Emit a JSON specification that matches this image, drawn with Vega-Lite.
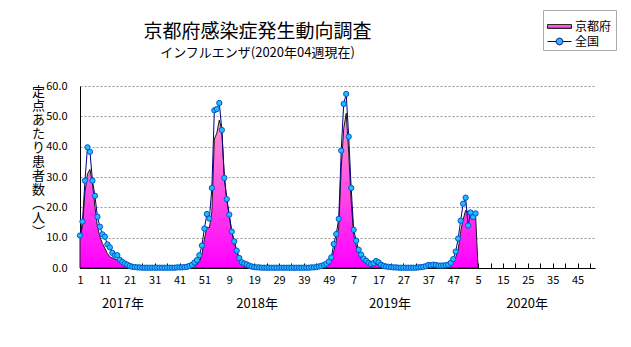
{
  "$schema": "https://vega.github.io/schema/vega-lite/v6.json",
  "width": 515,
  "height": 182,
  "autosize": {"type": "none"},
  "padding": {"left": 80, "top": 86, "right": 36, "bottom": 79},
  "background": "white",
  "config": {"view": {"stroke": null}, "font": "Noto Sans CJK JP", "axis": {"labelOverlap": false}},
  "title": {
    "text": "京都府感染症発生動向調査",
    "subtitle": "インフルエンザ(2020年04週現在)",
    "anchor": "middle",
    "frame": "group",
    "dx": -80,
    "dy": 76,
    "fontSize": 19,
    "fontWeight": "normal",
    "font": "Noto Sans CJK JP",
    "color": "#000000",
    "subtitleFontSize": 13,
    "subtitleFont": "Noto Sans CJK JP",
    "subtitleColor": "#000000",
    "subtitlePadding": 5,
    "offset": 26
  },
  "datasets": {
    "flu": [
      {"i":1,"k":9.5,"z":10.7},{"i":2,"k":14.0,"z":15.3},{"i":3,"k":25.0,"z":28.8},{"i":4,"k":31.0,"z":39.8},
      {"i":5,"k":32.5,"z":38.3},{"i":6,"k":27.9,"z":28.8},{"i":7,"k":20.2,"z":23.8},{"i":8,"k":13.6,"z":16.9},
      {"i":9,"k":10.3,"z":13.6},{"i":10,"k":8.1,"z":11.1},{"i":11,"k":6.5,"z":10.3},{"i":12,"k":4.8,"z":7.8},
      {"i":13,"k":3.7,"z":6.8},{"i":14,"k":3.2,"z":5.0},{"i":15,"k":2.9,"z":4.1},{"i":16,"k":2.6,"z":4.2},
      {"i":17,"k":1.8,"z":2.7},{"i":18,"k":1.2,"z":2.0},{"i":19,"k":0.9,"z":1.5},{"i":20,"k":0.5,"z":1.1},
      {"i":21,"k":0.3,"z":0.7},{"i":22,"k":0.2,"z":0.4},{"i":23,"k":0.1,"z":0.3},{"i":24,"k":0.1,"z":0.2},
      {"i":25,"k":0.1,"z":0.2},{"i":26,"k":0.0,"z":0.1},{"i":27,"k":0.0,"z":0.1},{"i":28,"k":0.0,"z":0.1},
      {"i":29,"k":0.0,"z":0.1},{"i":30,"k":0.0,"z":0.1},{"i":31,"k":0.0,"z":0.1},{"i":32,"k":0.0,"z":0.1},
      {"i":33,"k":0.0,"z":0.1},{"i":34,"k":0.0,"z":0.1},{"i":35,"k":0.0,"z":0.1},{"i":36,"k":0.0,"z":0.1},
      {"i":37,"k":0.0,"z":0.1},{"i":38,"k":0.0,"z":0.1},{"i":39,"k":0.0,"z":0.1},{"i":40,"k":0.0,"z":0.2},
      {"i":41,"k":0.1,"z":0.2},{"i":42,"k":0.1,"z":0.2},{"i":43,"k":0.1,"z":0.3},{"i":44,"k":0.2,"z":0.4},
      {"i":45,"k":0.3,"z":0.7},{"i":46,"k":0.5,"z":1.0},{"i":47,"k":0.8,"z":1.8},{"i":48,"k":1.2,"z":2.6},
      {"i":49,"k":2.0,"z":4.2},{"i":50,"k":4.5,"z":7.4},{"i":51,"k":9.5,"z":13.0},{"i":52,"k":13.5,"z":17.8},
      {"i":53,"k":13.2,"z":16.3},{"i":54,"k":18.5,"z":26.4},{"i":55,"k":42.5,"z":52.0},{"i":56,"k":44.5,"z":52.4},
      {"i":57,"k":48.8,"z":54.4},{"i":58,"k":45.5,"z":45.5},{"i":59,"k":30.5,"z":29.7},{"i":60,"k":22.5,"z":22.7},
      {"i":61,"k":17.0,"z":17.6},{"i":62,"k":12.0,"z":12.0},{"i":63,"k":8.5,"z":8.8},{"i":64,"k":5.5,"z":5.7},
      {"i":65,"k":3.3,"z":3.3},{"i":66,"k":1.8,"z":1.9},{"i":67,"k":1.0,"z":1.5},{"i":68,"k":0.6,"z":1.2},
      {"i":69,"k":0.4,"z":0.8},{"i":70,"k":0.3,"z":0.5},{"i":71,"k":0.2,"z":0.3},{"i":72,"k":0.1,"z":0.2},
      {"i":73,"k":0.1,"z":0.2},{"i":74,"k":0.0,"z":0.1},{"i":75,"k":0.0,"z":0.1},{"i":76,"k":0.0,"z":0.1},
      {"i":77,"k":0.0,"z":0.1},{"i":78,"k":0.0,"z":0.1},{"i":79,"k":0.0,"z":0.1},{"i":80,"k":0.0,"z":0.1},
      {"i":81,"k":0.0,"z":0.1},{"i":82,"k":0.0,"z":0.1},{"i":83,"k":0.0,"z":0.1},{"i":84,"k":0.0,"z":0.1},
      {"i":85,"k":0.0,"z":0.1},{"i":86,"k":0.0,"z":0.1},{"i":87,"k":0.0,"z":0.1},{"i":88,"k":0.0,"z":0.1},
      {"i":89,"k":0.0,"z":0.1},{"i":90,"k":0.0,"z":0.1},{"i":91,"k":0.0,"z":0.1},{"i":92,"k":0.0,"z":0.1},
      {"i":93,"k":0.0,"z":0.1},{"i":94,"k":0.1,"z":0.2},{"i":95,"k":0.1,"z":0.2},{"i":96,"k":0.1,"z":0.3},
      {"i":97,"k":0.2,"z":0.5},{"i":98,"k":0.3,"z":0.7},{"i":99,"k":0.5,"z":1.0},{"i":100,"k":0.8,"z":1.4},
      {"i":101,"k":1.0,"z":2.1},{"i":102,"k":2.5,"z":3.5},{"i":103,"k":5.5,"z":7.9},{"i":104,"k":9.0,"z":11.2},
      {"i":105,"k":13.5,"z":16.2},{"i":106,"k":33.0,"z":38.7},{"i":107,"k":46.0,"z":54.1},{"i":108,"k":51.0,"z":57.4},
      {"i":109,"k":38.0,"z":43.3},{"i":110,"k":22.0,"z":26.4},{"i":111,"k":11.0,"z":12.6},{"i":112,"k":7.5,"z":9.0},
      {"i":113,"k":4.8,"z":6.0},{"i":114,"k":3.0,"z":4.4},{"i":115,"k":2.0,"z":3.1},{"i":116,"k":1.5,"z":2.4},
      {"i":117,"k":1.0,"z":1.7},{"i":118,"k":0.8,"z":1.3},{"i":119,"k":1.0,"z":1.6},{"i":120,"k":1.2,"z":2.3},
      {"i":121,"k":1.0,"z":1.9},{"i":122,"k":0.6,"z":1.1},{"i":123,"k":0.4,"z":0.7},{"i":124,"k":0.3,"z":0.5},
      {"i":125,"k":0.2,"z":0.4},{"i":126,"k":0.1,"z":0.3},{"i":127,"k":0.1,"z":0.2},{"i":128,"k":0.1,"z":0.2},
      {"i":129,"k":0.0,"z":0.1},{"i":130,"k":0.0,"z":0.1},{"i":131,"k":0.0,"z":0.1},{"i":132,"k":0.0,"z":0.1},
      {"i":133,"k":0.0,"z":0.1},{"i":134,"k":0.0,"z":0.1},{"i":135,"k":0.0,"z":0.1},{"i":136,"k":0.0,"z":0.1},
      {"i":137,"k":0.1,"z":0.2},{"i":138,"k":0.1,"z":0.3},{"i":139,"k":0.1,"z":0.4},{"i":140,"k":0.2,"z":0.6},
      {"i":141,"k":0.2,"z":1.0},{"i":142,"k":0.2,"z":0.9},{"i":143,"k":0.2,"z":1.1},{"i":144,"k":0.2,"z":1.0},
      {"i":145,"k":0.2,"z":0.8},{"i":146,"k":0.2,"z":0.8},{"i":147,"k":0.3,"z":0.8},{"i":148,"k":0.4,"z":0.9},
      {"i":149,"k":0.6,"z":1.1},{"i":150,"k":1.0,"z":1.7},{"i":151,"k":1.8,"z":2.9},{"i":152,"k":3.5,"z":5.4},
      {"i":153,"k":6.0,"z":9.7},{"i":154,"k":12.0,"z":15.6},{"i":155,"k":16.0,"z":21.2},{"i":156,"k":19.0,"z":23.2},
      {"i":157,"k":18.5,"z":14.0},{"i":158,"k":18.0,"z":18.3},{"i":159,"k":16.8,"z":16.8},{"i":160,"k":17.5,"z":18.0},
      {"i":161,"k":0,"z":null}
    ],
    "years": [
      {"i":18.3,"label":"2017年"},{"i":72.2,"label":"2018年"},{"i":125.6,"label":"2019年"},{"i":180.7,"label":"2020年"}
    ]
  },
  "layer": [
    {
      "data": {"name": "flu"},
      "mark": {
        "type": "area",
        "fill": {"x1": 0, "y1": 0, "x2": 0, "y2": 1, "gradient": "linear",
          "stops": [{"offset": 0, "color": "#FF99CC"}, {"offset": 1, "color": "#FF00FF"}]},
        "fillOpacity": 1,
        "strokeWidth": 1
      },
      "encoding": {
        "x": {
          "field": "i", "type": "quantitative",
          "scale": {"domain": [1, 208], "nice": false, "zero": false},
          "axis": {
            "values": [1,6,11,16,21,26,31,36,41,46,51,56,61,66,71,76,81,86,91,96,101,106,111,116,121,126,131,136,141,146,151,156,161,166,171,176,181,186,191,196,201,206],
            "tickCount": 200,
            "labelExpr": "datum.value % 10 == 1 ? '' + ((datum.value - 1) % 52 + 1) : ''",
            "tickSize": -5,
            "labelPadding": 11,
            "tickColor": "#000000",
            "domainColor": "#000000",
            "labelFontSize": 11,
            "labelColor": "#000000",
            "grid": false,
            "title": null,
            "labelAngle": 0,
            "labelOverlap": false,
            "labelFlush": false,
            "labelBound": false
          }
        },
        "y": {
          "field": "k", "type": "quantitative",
          "scale": {"domain": [0, 60], "nice": false, "zero": true},
          "axis": {
            "values": [0,10,20,30,40,50,60],
            "tickCount": 20,
            "format": ".1f",
            "labelFontSize": 11,
            "labelColor": "#000000",
            "labelPadding": 13,
            "labelOverlap": false,
            "ticks": false,
            "grid": true,
            "gridColor": "#999999",
            "gridDash": [2, 2],
            "gridWidth": 1,
            "domainColor": "#000000",
            "title": ["定","点","あ","た","り","患","者","数","︵","人","︶"],
            "titleAngle": 0,
            "titleX": -42,
            "titleY": -1,
            "titleAlign": "center",
            "titleBaseline": "top",
            "titleFontSize": 13,
            "titleFontWeight": "normal",
            "titleLineHeight": 14,
            "titleColor": "#000000",
            "titleFont": "Noto Sans CJK JP"
          }
        },
        "stroke": {
          "datum": "京都府",
          "scale": {"domain": ["京都府"], "range": ["#1A1A1A"]},
          "legend": {
            "title": "　",
            "titleOrient": "bottom",
            "titleFontSize": 12,
            "titlePadding": 2,
            "orient": "none",
            "legendX": 463,
            "legendY": -76,
            "strokeColor": "#AAAAAA",
            "padding": 4,
            "labelFontSize": 12,
            "labelFont": "Noto Sans CJK JP",
            "labelColor": "#000000",
            "labelOffset": 3,
            "symbolSize": 576,
            "symbolType": "M-1,-0.16H1V0.16H-1Z",
            "symbolStrokeWidth": 1
          }
        }
      }
    },
    {
      "data": {"name": "flu"},
      "mark": {"type": "line", "strokeWidth": 1},
      "encoding": {
        "x": {"field": "i", "type": "quantitative"},
        "y": {"field": "z", "type": "quantitative"},
        "color": {
          "datum": "全国",
          "scale": {"domain": ["全国"], "range": ["#000080"]},
          "legend": {
            "title": null,
            "orient": "none",
            "legendX": 467,
            "legendY": -57,
            "padding": 0,
            "labelFontSize": 12,
            "labelFont": "Noto Sans CJK JP",
            "labelColor": "#000000",
            "labelOffset": 3,
            "symbolSize": 576,
            "symbolType": "M-1,0H-0.28M0.28,0H1M0.28,0A0.28,0.28,0,1,1,-0.28,0A0.28,0.28,0,1,1,0.28,0Z",
            "symbolFillColor": "#22BBFF",
            "symbolStrokeWidth": 1
          }
        }
      }
    },
    {
      "data": {"name": "flu"},
      "mark": {"type": "point", "filled": true, "fill": "#22BBFF", "stroke": "#0055CC", "strokeWidth": 1, "size": 28, "opacity": 1},
      "encoding": {
        "x": {"field": "i", "type": "quantitative"},
        "y": {"field": "z", "type": "quantitative"}
      }
    },
    {
      "data": {"name": "years"},
      "mark": {"type": "text", "fontSize": 13, "baseline": "middle", "align": "center", "color": "#000000", "font": "Noto Sans CJK JP"},
      "encoding": {
        "x": {"field": "i", "type": "quantitative"},
        "y": {"datum": -12, "type": "quantitative"},
        "text": {"field": "label"}
      }
    }
  ]
}
